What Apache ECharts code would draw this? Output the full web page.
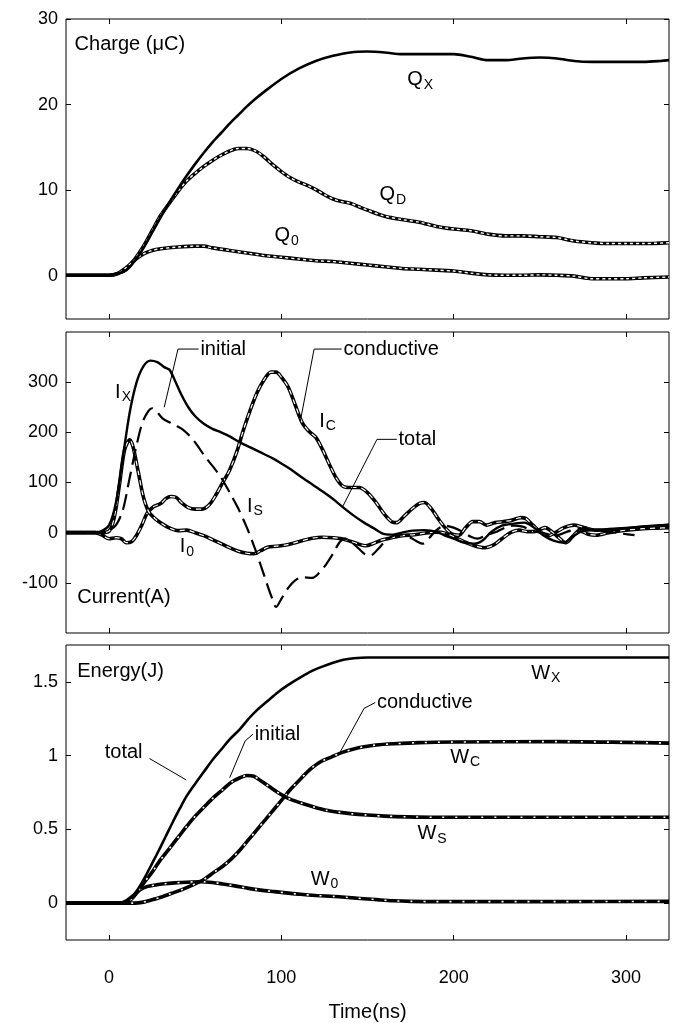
<!DOCTYPE html>
<html><head><meta charset="utf-8">
<script src="https://cdn.jsdelivr.net/npm/echarts@6/dist/echarts.min.js"></script>
<style>html,body{margin:0;padding:0;background:#fff}#c{width:675px;height:1023px}</style>
</head><body><div id="c"></div>
<script>
// ---- tick labels ----
const xTicks = [0, 100, 200, 300];
const qTicks = [0, 10, 20, 30];
const iTicks = [-100, 0, 100, 200, 300];
const wTicks = [0, 0.5, 1, 1.5];

// ---- Charge (uC) ----
const QX = [[-25,0.1],[0,0.1],[5,0.3],[10,0.7],[15,1.8],[20,3.3],[25,5.1],[30,6.9],[35,8.6],[40,10.2],[45,11.7],[50,13.1],[55,14.4],[60,15.6],[65,16.7],[70,17.8],[75,18.8],[80,19.8],[85,20.7],[90,21.5],[100,23],[110,24.2],[120,25.1],[130,25.7],[140,26.1],[150,26.2],[160,26.1],[170,25.9],[180,25.9],[190,25.9],[200,25.9],[210,25.6],[220,25.2],[230,25.2],[240,25.4],[250,25.5],[260,25.4],[270,25.1],[280,25.0],[290,25.0],[300,25.0],[310,25.0],[320,25.1],[325,25.2]];
const QD = [[-25,0.1],[0,0.1],[5,0.3],[10,0.8],[15,2],[20,3.5],[25,5.3],[30,7.1],[35,8.5],[40,9.9],[45,11.1],[50,12],[55,12.8],[60,13.5],[65,14.1],[70,14.6],[75,14.9],[80,14.9],[85,14.6],[90,13.9],[95,13],[100,12.2],[105,11.5],[110,11],[115,10.6],[120,10.1],[125,9.5],[130,9],[135,8.7],[140,8.5],[145,8.1],[150,7.7],[160,7],[170,6.6],[180,6.3],[190,5.8],[200,5.5],[210,5.3],[220,4.9],[230,4.7],[240,4.7],[250,4.6],[260,4.5],[270,4.1],[280,3.9],[290,3.8],[300,3.8],[310,3.8],[325,3.9]];
const Q0 = [[-25,0.1],[0,0.1],[5,0.3],[10,1],[15,1.9],[20,2.6],[25,3],[30,3.2],[40,3.4],[50,3.5],[55,3.5],[60,3.3],[70,3],[80,2.7],[90,2.4],[100,2.2],[110,2],[120,1.8],[130,1.7],[140,1.5],[150,1.3],[160,1.1],[170,0.9],[180,0.8],[190,0.7],[200,0.6],[210,0.35],[220,0.15],[230,0.1],[240,0.1],[250,0.15],[260,0.1],[270,0],[280,-0.3],[290,-0.3],[300,-0.3],[310,-0.2],[325,-0.1]];

// ---- Current (A) ----
const IX = [[-25,0],[-10,0],[-5,2],[0,15],[4,60],[8,150],[12,240],[16,300],[20,332],[24,343],[28,340],[32,330],[35,325],[38,305],[42,275],[46,250],[50,232],[55,217],[60,207],[65,200],[70,192],[76,180],[82,170],[88,160],[95,148],[100,138],[106,125],[112,110],[118,96],[124,82],[130,67],[136,50],[142,34],[148,20],[154,8],[160,-3],[165,-4],[170,0],[176,4],[183,5],[190,2],[195,-6],[200,-12],[206,-20],[212,-22],[217,-15],[222,2],[228,14],[235,18],[241,20],[246,12],[252,-5],[258,-16],[264,-20],[269,-8],[274,2],[280,5],[290,6],[300,9],[310,12],[318,14],[325,15]];
const IS = [[-25,0],[-5,0],[0,5],[4,15],[8,45],[12,110],[16,175],[20,225],[25,248],[28,240],[31,228],[35,220],[39,213],[43,205],[47,192],[51,175],[55,155],[60,133],[65,110],[70,80],[75,48],[80,10],[85,-35],[90,-85],[94,-125],[97,-148],[100,-132],[104,-110],[108,-95],[112,-89],[118,-90],[122,-80],[126,-63],[130,-42],[134,-18],[137,-12],[141,-20],[145,-32],[149,-44],[152,-45],[156,-33],[160,-18],[165,-6],[170,-4],[175,-10],[179,-18],[182,-22],[186,-10],[190,5],[195,14],[200,10],[205,2],[210,-8],[214,-12],[219,-5],[225,2],[230,10],[235,14],[240,12],[245,5],[250,0],[255,-3],[260,-5],[266,2],[272,8],[278,7],[285,4],[292,1],[298,-2],[305,-5]];
const IC = [[-25,0],[-8,0],[-4,-5],[0,-12],[4,-10],[7,-12],[10,-20],[13,-18],[16,-5],[19,15],[22,38],[26,52],[30,58],[33,68],[36,72],[39,70],[42,60],[46,50],[50,47],[54,47],[58,55],[62,75],[66,100],[70,125],[74,160],[78,205],[82,245],[86,280],[90,305],[94,320],[97,320],[100,310],[104,290],[108,255],[112,220],[116,202],[120,190],[124,165],[128,135],[132,108],[136,92],[140,90],[145,90],[150,80],[155,60],[160,36],[164,22],[167,20],[171,32],[176,48],[180,58],[183,60],[187,48],[191,28],[195,10],[199,-3],[203,-5],[207,10],[211,22],[215,22],[219,15],[224,20],[229,22],[234,25],[239,30],[242,28],[246,15],[251,0],[255,-6],[259,0],[264,10],[270,15],[276,10],[282,5],[290,6],[300,8],[310,11],[318,13],[325,15]];
const I0 = [[-25,0],[-5,0],[0,3],[3,30],[6,95],[9,165],[12,185],[14,170],[17,120],[20,70],[23,42],[27,27],[32,15],[36,8],[40,4],[45,5],[50,0],[55,-6],[60,-14],[65,-22],[70,-30],[75,-37],[80,-41],[84,-42],[88,-36],[92,-29],[97,-27],[102,-25],[107,-21],[112,-16],[118,-11],[124,-9],[130,-10],[135,-12],[140,-17],[145,-23],[149,-26],[153,-22],[158,-15],[164,-10],[170,-6],[177,-4],[183,-1],[190,1],[195,-1],[200,-8],[206,-18],[212,-26],[218,-30],[223,-25],[228,-12],[233,0],[238,5],[243,2],[248,3],[253,10],[257,2],[261,-10],[265,-20],[269,-8],[273,4],[278,-3],[283,-5],[290,0],[300,5],[310,8],[318,9],[325,10]];

// ---- Energy (J) ----
const WX = [[-25,0],[5,0],[9,0.01],[13,0.04],[17,0.1],[21,0.18],[25,0.27],[29,0.36],[33,0.455],[37,0.55],[41,0.64],[45,0.725],[50,0.81],[55,0.89],[60,0.97],[65,1.04],[70,1.11],[76,1.18],[81,1.25],[86,1.31],[92,1.37],[98,1.43],[104,1.48],[111,1.53],[117,1.57],[123,1.6],[130,1.63],[136,1.65],[142,1.66],[150,1.665],[200,1.665],[260,1.665],[325,1.665]];
const WS = [[-25,0],[8,0],[11,0.01],[14,0.04],[18,0.1],[21,0.15],[25,0.21],[29,0.28],[33,0.34],[37,0.4],[41,0.46],[45,0.52],[50,0.59],[55,0.65],[61,0.72],[66,0.77],[71,0.82],[76,0.85],[80,0.865],[84,0.86],[88,0.83],[93,0.79],[98,0.75],[104,0.71],[111,0.68],[118,0.655],[126,0.63],[133,0.617],[140,0.607],[150,0.597],[160,0.59],[173,0.585],[190,0.582],[260,0.582],[325,0.582]];
const WC = [[-25,0],[15,0],[19,0.005],[24,0.02],[30,0.04],[36,0.065],[42,0.09],[48,0.12],[55,0.16],[61,0.21],[66,0.25],[71,0.3],[76,0.36],[81,0.43],[86,0.5],[91,0.57],[96,0.64],[101,0.71],[106,0.78],[111,0.84],[117,0.91],[123,0.96],[129,0.99],[135,1.02],[142,1.045],[148,1.06],[155,1.072],[165,1.08],[180,1.088],[200,1.092],[260,1.095],[300,1.09],[325,1.085]];
const W0 = [[-25,0],[7,0],[10,0.015],[14,0.05],[18,0.09],[22,0.112],[27,0.123],[32,0.131],[38,0.137],[45,0.142],[53,0.145],[60,0.14],[66,0.13],[73,0.117],[81,0.1],[88,0.088],[96,0.078],[104,0.068],[111,0.06],[120,0.052],[131,0.045],[140,0.037],[148,0.03],[157,0.022],[165,0.016],[175,0.012],[190,0.01],[260,0.01],[325,0.012]];

const FONT = "'Liberation Sans',Arial,Helvetica,sans-serif";
const chart = echarts.init(document.getElementById('c'), null, {renderer: 'canvas'});

const grids = [
  {left: 66, right: 6, top: 19, height: 300},
  {left: 66, right: 6, top: 332, height: 301},
  {left: 66, right: 6, top: 645, height: 303}
];
const yConf = [
  {min: -5, max: 30, ticks: qTicks},
  {min: -200, max: 400, ticks: iTicks},
  {min: -0.25, max: 1.75, ticks: wTicks}
];

const xAxes = [], yAxes = [];
grids.forEach((g, i) => {
  const last = i === grids.length - 1;
  ['bottom', 'top'].forEach(pos => {
    const lab = last && pos === 'bottom';
    xAxes.push({
      type: 'value', gridIndex: i, position: pos, min: -25, max: 325,
      axisLine: {show: false, onZero: false}, splitLine: {show: false},
      axisTick: {show: true, inside: true, length: 5, customValues: xTicks, lineStyle: {color: '#000', width: 1}},
      axisLabel: {show: lab, customValues: xTicks, margin: 29, color: '#000', fontSize: 18, fontFamily: FONT},
      name: lab ? 'Time(ns)' : '', nameLocation: 'middle', nameGap: 62,
      nameTextStyle: {color: '#000', fontSize: 20, fontFamily: FONT}
    });
  });
  ['left', 'right'].forEach(pos => {
    yAxes.push({
      type: 'value', gridIndex: i, position: pos, min: yConf[i].min, max: yConf[i].max,
      axisLine: {show: false, onZero: false}, splitLine: {show: false},
      axisTick: {show: true, inside: true, length: 5, customValues: yConf[i].ticks, lineStyle: {color: '#000', width: 1}},
      axisLabel: {show: pos === 'left', customValues: yConf[i].ticks, margin: 8, color: '#000', fontSize: 18, fontFamily: FONT}
    });
  });
});

const series = [];
function solid(data, gi, width, dash) {
  series.push({
    type: 'line', xAxisIndex: gi * 2, yAxisIndex: gi * 2, data: data, symbol: 'none', smooth: 0.3,
    lineStyle: {color: '#000', width: width, type: dash || 'solid'}, z: 3, silent: true
  });
}
function hollow(data, gi, dash, innerW) {
  series.push({
    type: 'line', xAxisIndex: gi * 2, yAxisIndex: gi * 2, data: data, symbol: 'none', smooth: 0.3,
    lineStyle: {color: '#000', width: 3.6}, z: 2, silent: true
  });
  series.push({
    type: 'line', xAxisIndex: gi * 2, yAxisIndex: gi * 2, data: data, symbol: 'none', smooth: 0.3,
    lineStyle: {color: '#fff', width: innerW, type: dash}, z: 2, silent: true
  });
}
// panel 1
hollow(QD, 0, [3, 3], 1.4);
hollow(Q0, 0, [3, 3], 1.4);
solid(QX, 0, 2.6);
// panel 2
hollow(IC, 1, [5, 5], 1.2);
hollow(I0, 1, [5, 5], 1.2);
solid(IX, 1, 2.4);
solid(IS, 1, 2.2, [16, 7]);
// panel 3
hollow(W0, 2, [2, 11], 1.6);
hollow(WC, 2, [2, 11], 1.6);
hollow(WS, 2, [2, 11], 1.6);
solid(WX, 2, 2.6);

chart.setOption({
  animation: false,
  backgroundColor: '#fff',
  grid: grids.map(g => Object.assign({show: true, borderColor: '#000', borderWidth: 1, backgroundColor: 'transparent'}, g)),
  xAxis: xAxes, yAxis: yAxes, series: series
});

// ---- annotations (data coordinates) ----
const texts = [
  {g: 0, x: -20, y: 27, t: 'Charge (\u03bcC)'},
  {g: 0, x: 173, y: 22.9, t: 'Q{s|X}'},
  {g: 0, x: 157, y: 9.5, t: 'Q{s|D}'},
  {g: 0, x: 96, y: 4.7, t: 'Q{s|0}'},
  {g: 1, x: 3.5, y: 280, t: 'I{s|X}'},
  {g: 1, x: 53, y: 366, t: 'initial'},
  {g: 1, x: 136, y: 366, t: 'conductive'},
  {g: 1, x: 122, y: 222, t: 'I{s|C}'},
  {g: 1, x: 168, y: 186, t: 'total'},
  {g: 1, x: 80, y: 52, t: 'I{s|S}'},
  {g: 1, x: 41, y: -28, t: 'I{s|0}'},
  {g: 1, x: -18.5, y: -130, t: 'Current(A)'},
  {g: 2, x: -18.5, y: 1.57, t: 'Energy(J)'},
  {g: 2, x: 245, y: 1.56, t: 'W{s|X}'},
  {g: 2, x: 155.5, y: 1.36, t: 'conductive'},
  {g: 2, x: 84.5, y: 1.145, t: 'initial'},
  {g: 2, x: -2.5, y: 1.02, t: 'total'},
  {g: 2, x: 198, y: 0.99, t: 'W{s|C}'},
  {g: 2, x: 179, y: 0.47, t: 'W{s|S}'},
  {g: 2, x: 117, y: 0.16, t: 'W{s|0}'}
];
const leaders = [
  {g: 1, pts: [[52, 366], [40, 366], [32, 250]]},
  {g: 1, pts: [[135, 366], [119, 366], [111, 222]]},
  {g: 1, pts: [[167, 186], [155.5, 186], [135.6, 52]]},
  {g: 2, pts: [[154.5, 1.36], [148, 1.32], [133, 1.0]]},
  {g: 2, pts: [[83.5, 1.145], [79, 1.1], [70, 0.85]]},
  {g: 2, pts: [[23.5, 0.98], [44.8, 0.835]]}
];
const px = (g, p) => chart.convertToPixel({xAxisIndex: g * 2, yAxisIndex: g * 2}, p);
const graphic = [];
texts.forEach(a => {
  const p = px(a.g, [a.x, a.y]);
  graphic.push({
    type: 'text', x: p[0], y: p[1], z: 10,
    style: {
      text: a.t, fill: '#000', font: '20px ' + FONT, align: 'left', verticalAlign: 'middle',
      rich: {s: {fontSize: 14, fontFamily: FONT, fill: '#000', padding: [10, 0, 0, 1]}}
    }
  });
});
leaders.forEach(l => {
  graphic.push({
    type: 'polyline', z: 10,
    shape: {points: l.pts.map(p => px(l.g, p))},
    style: {stroke: '#000', lineWidth: 1, fill: null}
  });
});
chart.setOption({graphic: graphic});
</script>
</body></html>
